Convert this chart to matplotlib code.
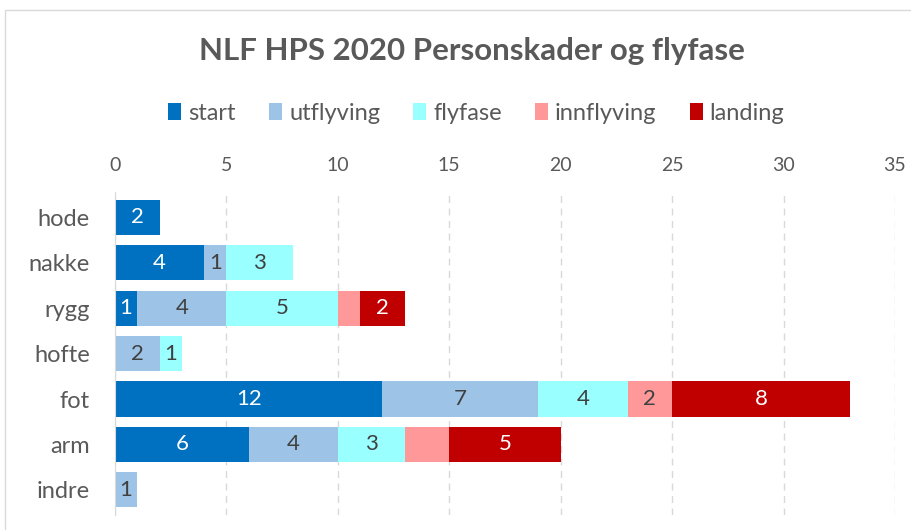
import matplotlib.pyplot as plt
from matplotlib.patches import Rectangle

plt.rcParams['font.family'] = ['Lato', 'DejaVu Sans']

categories = ['hode', 'nakke', 'rygg', 'hofte', 'fot', 'arm', 'indre']
phases = ['start', 'utflyving', 'flyfase', 'innflyving', 'landing']
values = {
    'start':      [2, 4, 1, 0, 12, 6, 0],
    'utflyving':  [0, 1, 4, 2, 7, 4, 1],
    'flyfase':    [0, 3, 5, 1, 4, 3, 0],
    'innflyving': [0, 0, 1, 0, 2, 2, 0],
    'landing':    [0, 0, 2, 0, 8, 5, 0],
}
# labels that are switched off in the original workbook
hidden = {('innflyving', 'rygg'), ('innflyving', 'arm')}

colors = {'start': '#0070C0', 'utflyving': '#9DC3E6', 'flyfase': '#99FFFF',
          'innflyving': '#FF9999', 'landing': '#C00000'}
label_colors = {'start': 'white', 'utflyving': '#404040', 'flyfase': '#404040',
                'innflyving': '#404040', 'landing': 'white'}

fig = plt.figure(figsize=(9.11, 5.30), dpi=100)
fig.patches.append(Rectangle((0.006, -0.01), 1.2, 0.991, transform=fig.transFigure,
                             fill=False, edgecolor='#D9D9D9', linewidth=1))
ax = fig.add_axes([0.1262, 0.0283, 0.8562, 0.6094])

y = list(range(len(categories)))
left = [0] * len(categories)
for ph in phases:
    vals = values[ph]
    ax.barh(y, vals, left=left, height=0.77, color=colors[ph], label=ph, zorder=3)
    for i, v in enumerate(vals):
        if v > 0 and (ph, categories[i]) not in hidden:
            ax.text(left[i] + v / 2, i, str(v), ha='center', va='center',
                    fontsize=16, color=label_colors[ph], zorder=4)
    left = [a + b for a, b in zip(left, vals)]

ax.set_xlim(0, 35)
ax.set_ylim(6.55, -0.55)
ax.set_xticks(range(0, 36, 5))
ax.set_yticks(y)
ax.set_yticklabels(categories)
ax.xaxis.tick_top()
ax.tick_params(axis='x', length=0, pad=13, labelsize=14, labelcolor='#595959')
ax.tick_params(axis='y', length=0, pad=18, labelsize=17, labelcolor='#595959')
ax.grid(axis='x', color='#D9D9D9', linestyle=(0, (5, 4)), linewidth=1, zorder=0)
for s in ['top', 'right', 'bottom']:
    ax.spines[s].set_visible(False)
ax.spines['left'].set_color('#D9D9D9')
ax.spines['left'].set_zorder(5)

fig.text(0.518, 0.903, 'NLF HPS 2020 Personskader og flyfase', ha='center', va='center',
         fontsize=22.5, fontweight='bold', color='#595959')
fig.legend(loc='center', bbox_to_anchor=(0.523, 0.786), ncol=5, frameon=False,
           fontsize=17, handlelength=0.55, handleheight=0.7, handletextpad=0.3,
           columnspacing=1.4, labelcolor='#595959')

fig.savefig('out.png', dpi=100)
